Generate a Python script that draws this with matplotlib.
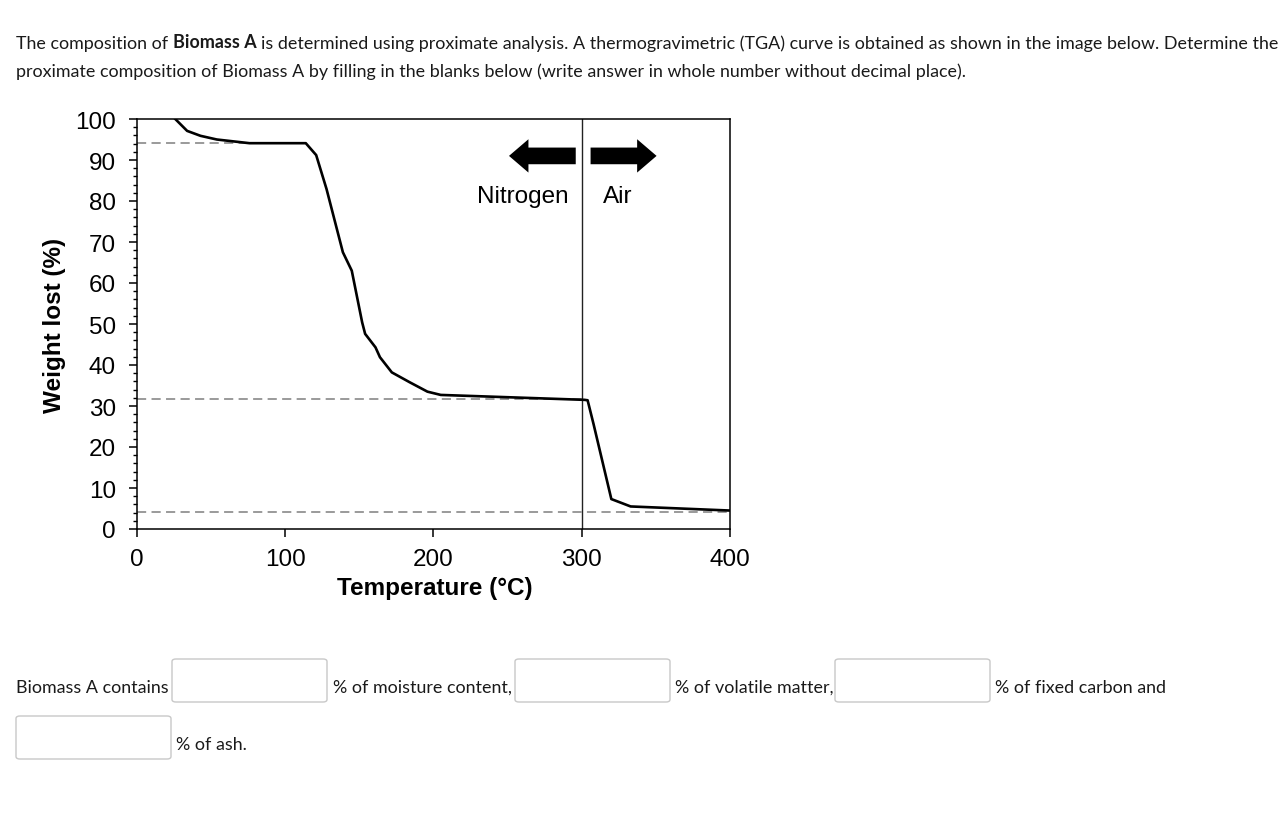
import matplotlib
matplotlib.use('Agg')
import matplotlib.pyplot as plt
from matplotlib.patches import FancyBboxPatch
from matplotlib.ticker import MultipleLocator

# ---------------- data ----------------
temperature = [26, 34, 43, 54, 76, 114, 121, 128, 139, 145, 152, 154, 161,
               164, 172, 184, 196, 205, 302, 304, 308, 320, 333, 400]
weight_lost = [100, 97.1, 95.9, 95.0, 94.1, 94.1, 91.2, 82.9, 67.5, 63.0, 50.4,
               47.6, 44.3, 41.9, 38.2, 35.8, 33.5, 32.7, 31.5, 31.4, 25.6, 7.3,
               5.5, 4.5]
ref_levels = [94.2, 31.7, 4.2]          # dashed guide levels
ref_ends = [113, 300, 400]              # where each guide stops (°C)
switch_temp = 300                       # nitrogen -> air
x_ticks = [0, 100, 200, 300, 400]
y_ticks = list(range(0, 101, 10))

header_1 = ["The composition of ", "Biomass A",
            " is determined using proximate analysis. A thermogravimetric (TGA) curve is obtained as shown in the image below. Determine the"]
header_2 = "proximate composition of Biomass A by filling in the blanks below (write answer in whole number without decimal place)."
blank_texts = ["Biomass A contains", "% of moisture content,", "% of volatile matter,",
               "% of fixed carbon and", "% of ash."]

# ---------------- figure ----------------
W, H = 1284, 837
fig = plt.figure(figsize=(W / 100, H / 100), dpi=100)
fig.patch.set_facecolor('white')


def fx(px):
    return px / W


def fy(py):
    return 1 - py / H


CHART_FONT = 'Liberation Sans'
PAGE_FONT = 'Lato'
fs = 17.5

ax = fig.add_axes([fx(136.7), fy(530), (730 - 136.7) / W, (530 - 120) / H])
ax.plot(temperature, weight_lost, color='black', lw=1.9, solid_joinstyle='round',
        clip_on=True, zorder=3)
for lv, end in zip(ref_levels, ref_ends):
    ax.plot([0, end], [lv, lv], color='#7f7f7f', lw=1.1, dashes=(6, 3.5), zorder=2)
ax.axvline(switch_temp, color='#222222', lw=1.0, zorder=2)

ax.set_xlim(0, 400)
ax.set_ylim(0, 100)
ax.set_xticks(x_ticks)
ax.set_yticks(y_ticks)
ax.yaxis.set_minor_locator(MultipleLocator(2))
ax.tick_params(axis='both', which='major', direction='out', length=6, width=1.1,
               labelsize=fs, color='black')
ax.tick_params(axis='y', which='minor', direction='out', length=3, width=1.0)
ax.tick_params(axis='y', which='major', pad=9)
ax.tick_params(axis='x', which='major', pad=8)
for lab in ax.get_xticklabels() + ax.get_yticklabels():
    lab.set_fontfamily(CHART_FONT)
for sp in ax.spines.values():
    sp.set_linewidth(1.1)
    sp.set_color('black')

ax.set_xlabel('Temperature (°C)', fontsize=fs, fontweight='bold', family=CHART_FONT)
ax.set_ylabel('Weight lost (%)', fontsize=fs, fontweight='bold', family=CHART_FONT)
ax.xaxis.set_label_coords((435 - 136.7) / 593.3, (530 - 589) / 410)
ax.xaxis.label.set_va('center')
ax.yaxis.set_label_coords((55 - 136.7) / 593.3, 0.5)
ax.yaxis.label.set_va('center')

# arrows and atmosphere labels
arrow_style = 'simple,head_length=1.4,head_width=2.4,tail_width=1.2'
ax.annotate('', xy=(251, 91), xytext=(296, 91),
            arrowprops=dict(arrowstyle=arrow_style, mutation_scale=10,
                            fc='black', ec='none', shrinkA=0, shrinkB=0))
ax.annotate('', xy=(350.5, 91), xytext=(306, 91),
            arrowprops=dict(arrowstyle=arrow_style, mutation_scale=10,
                            fc='black', ec='none', shrinkA=0, shrinkB=0))
ax.text(291, 81.2, 'Nitrogen', ha='right', va='center', fontsize=fs, family=CHART_FONT)
ax.text(314.5, 81.2, 'Air', ha='left', va='center', fontsize=fs, family=CHART_FONT)

# ---------------- page text ----------------
r = fig.canvas.get_renderer()
pfs = 12.85
txt_color = '#1a1a1a'


def text_width(s, **kw):
    t = fig.text(0, 0, s, fontsize=pfs, family=PAGE_FONT, **kw)
    w = t.get_window_extent(renderer=r).width
    t.remove()
    return w


space_w = text_width('x x') - text_width('xx')


def put(x, y, s, **kw):
    lead = len(s) - len(s.lstrip(' '))
    x = x + lead * space_w
    s2 = s.strip(' ')
    t = fig.text(fx(x), fy(y), s2, ha='left', va='baseline', fontsize=pfs,
                 family=PAGE_FONT, color=txt_color, **kw)
    w = t.get_window_extent(renderer=r).width
    trail = len(s) - len(s.rstrip(' '))
    return x + w + trail * space_w


x = 16
x = put(x, 48.5, header_1[0])
x = put(x, 48.5, header_1[1], fontweight='bold')
put(x, 48.5, header_1[2])
put(16, 77, header_2)

# blanks row
box_w, box_h = 155, 43


def box(x0, y0):
    p = FancyBboxPatch((fx(x0), fy(y0 + box_h)), box_w / W, box_h / H,
                       boxstyle='round,pad=0,rounding_size=0.003',
                       transform=fig.transFigure, fc='white', ec='#c8c8c8', lw=1.0)
    fig.add_artist(p)


box(172, 660)
box(515, 660)
box(835, 660)
box(16, 717)
put(16, 693, blank_texts[0])
put(333, 693, blank_texts[1])
put(675, 693, blank_texts[2])
put(995, 693, blank_texts[3])
put(176, 750, blank_texts[4])

fig.savefig('out.png', dpi=100, facecolor='white')
